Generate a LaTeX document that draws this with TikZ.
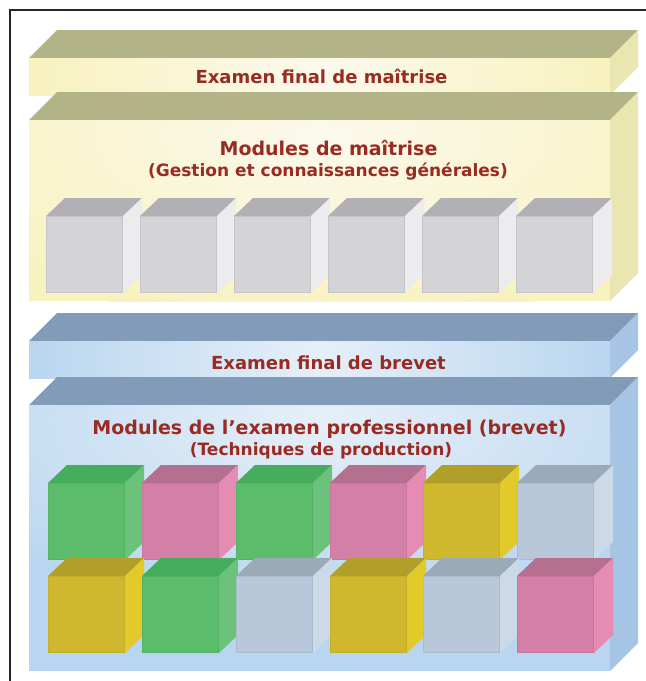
\documentclass[tikz,border=0pt]{standalone}
\usepackage{fontspec}
\setmainfont{DejaVu Sans}
\definecolor{Ytop}{HTML}{B2B487}
\definecolor{Yedge}{HTML}{F8F2BE}
\definecolor{Ymid}{HTML}{FBF9EC}
\definecolor{Yside}{HTML}{E9E6B2}
\definecolor{Btop}{HTML}{829BB8}
\definecolor{Bedge}{HTML}{B9D6F0}
\definecolor{Bmid}{HTML}{E6EFF8}
\definecolor{Bside}{HTML}{A6C4E3}
\definecolor{tred}{HTML}{9A2B22}
% cube colours
\definecolor{Gfront}{HTML}{D4D3D5}\definecolor{Gtop}{HTML}{B3B0B5}\definecolor{Gside}{HTML}{ECEBEE}\definecolor{Gedge}{HTML}{C6C5C9}
\definecolor{Nfront}{HTML}{5BBD6C}\definecolor{Ntop}{HTML}{45AD5C}\definecolor{Nside}{HTML}{6CC27A}\definecolor{Nedge}{HTML}{52B463}
\definecolor{Pfront}{HTML}{D37FA8}\definecolor{Ptop}{HTML}{B5708F}\definecolor{Pside}{HTML}{E68BB2}\definecolor{Pedge}{HTML}{C8789E}
\definecolor{Jfront}{HTML}{CFB82E}\definecolor{Jtop}{HTML}{B0A02A}\definecolor{Jside}{HTML}{E2CA2A}\definecolor{Jedge}{HTML}{C4AE2C}
\definecolor{Lfront}{HTML}{B8C8DA}\definecolor{Ltop}{HTML}{9AAAB8}\definecolor{Lside}{HTML}{CCDAE8}\definecolor{Ledge}{HTML}{ABBBCC}
\newcommand{\myslab}[3]{%
  \fill[#3top] (29,#1) -- (57,#1-28) -- (638,#1-28) -- (610,#1) -- cycle;
  \fill[#3side] (610,#1) -- (638,#1-28) -- (638,#2-28) -- (610,#2) -- cycle;
  \shade[left color=#3edge,right color=#3edge,middle color=#3mid] (29,#1) rectangle (610,#2);
}
\newcommand{\mytallslab}[3]{%
  \fill[#3top] (29,#1) -- (57,#1-28) -- (638,#1-28) -- (610,#1) -- cycle;
  \fill[#3side] (610,#1) -- (638,#1-28) -- (638,#2-28) -- (610,#2) -- cycle;
  \fill[#3edge] (29,#1) rectangle (610,#2);
  \begin{scope}
    \clip (29,#1) rectangle (610,#2);
    \shade[inner color=#3mid, outer color=#3edge] (322,#1+15) ellipse (440 and 190);
  \end{scope}
}
\newcommand{\mycube}[3]{%
  \fill[#3top] (#1,#2) -- (#1+19,#2-18) -- (#1+96,#2-18) -- (#1+77,#2) -- cycle;
  \fill[#3side] (#1+77,#2) -- (#1+96,#2-18) -- (#1+96,#2+59) -- (#1+77,#2+77) -- cycle;
  \filldraw[fill=#3front, draw=#3edge, line width=0.9pt] (#1+0.5,#2+0.5) rectangle (#1+76.5,#2+76.5);
}
\tikzset{
  title/.style={anchor=base, text=tred, font=\fontsize{18}{20}\selectfont\bfseries},
  bigtitle/.style={anchor=base, text=tred, font=\fontsize{19}{21}\selectfont\bfseries},
  subtitle/.style={anchor=base, text=tred, font=\fontsize{17}{19}\selectfont\bfseries}
}
\begin{document}
\begin{tikzpicture}[x=1pt,y=-1pt]
\useasboundingbox (0,0) rectangle (646,681);
\fill[white] (0,0) rectangle (646,681);
\draw[line width=1.6pt, black!85] (10,682) -- (10,10) -- (647,10);
% slabs
\myslab{58}{95}{Y}
\mytallslab{120}{301}{Y}
\myslab{341}{378}{B}
\mytallslab{405}{671}{B}
% grey cubes
\foreach \i in {0,...,5} {\mycube{46+94*\i}{216}{G}}
% coloured cubes row 1
\mycube{48}{483}{N}
\mycube{142}{483}{P}
\mycube{236}{483}{N}
\mycube{330}{483}{P}
\mycube{423}{483}{J}
\mycube{517}{483}{L}
% row 2
\mycube{48}{576}{J}
\mycube{142}{576}{N}
\mycube{236}{576}{L}
\mycube{330}{576}{J}
\mycube{423}{576}{L}
\mycube{517}{576}{P}
% texts
\node[title] (t1) at (321.5,83) {Examen final de maîtrise};
\node[bigtitle] (t2) at (328.5,155) {Modules de maîtrise};
\node[subtitle] (t3) at (328,176) {(Gestion et connaissances générales)};
\node[title] (t4) at (328.5,369) {Examen final de brevet};
\node[bigtitle] (t5) at (329.5,434) {Modules de l’examen professionnel (brevet)};
\node[subtitle] (t6) at (321,455) {(Techniques de production)};
\end{tikzpicture}
\end{document}
